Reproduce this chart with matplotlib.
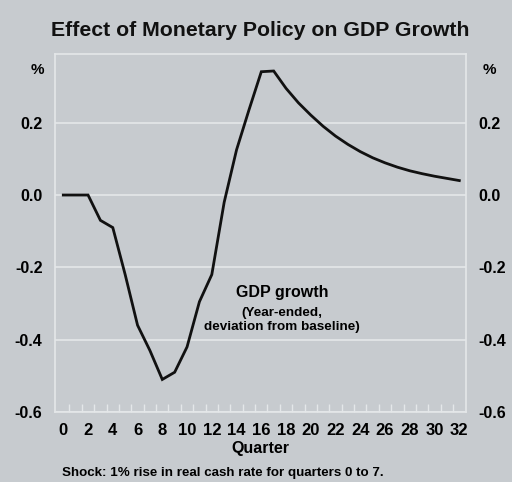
import matplotlib
matplotlib.use("Agg")
import matplotlib.pyplot as plt
import numpy as np

plt.rcParams['font.family'] = ['Liberation Sans', 'DejaVu Sans']
plt.rcParams['font.weight'] = 'bold'

# Data
quarters = list(range(0, 33))
gdp_dev = [0.0, 0.0, 0.0, -0.07, -0.09, -0.22, -0.36, -0.43, -0.51, -0.49,
           -0.42, -0.295, -0.22, -0.02, 0.125, 0.235, 0.341, 0.343, 0.295,
           0.255, 0.221, 0.190, 0.163, 0.140, 0.120, 0.103, 0.089, 0.077,
           0.067, 0.059, 0.052, 0.046, 0.040]
ytick_vals = [-0.6, -0.4, -0.2, 0.0, 0.2]
ytick_labels = ['-0.6', '-0.4', '-0.2', '0.0', '0.2']
xtick_vals = list(range(0, 33, 2))
xtick_labels = [str(v) for v in xtick_vals]

title = "Effect of Monetary Policy on GDP Growth"
xlabel = "Quarter"
footer = "Shock: 1% rise in real cash rate for quarters 0 to 7."

BG = '#c7cbcf'
GRID = '#e4e7e9'
W, H = 512, 482

fig = plt.figure(figsize=(W/100, H/100), dpi=100)
fig.patch.set_facecolor(BG)
ax = fig.add_axes([55/W, 1-412/H, (466-55)/W, (412-54)/H])
ax.set_facecolor(BG)

ax.plot(quarters, gdp_dev, color='#111111', lw=2.0, solid_joinstyle='miter', zorder=3)

ax.set_xlim(-0.67, 32.54)
ax.set_ylim(-0.6, 0.39)

ax.set_yticks(ytick_vals)
ax.set_yticklabels(ytick_labels)
ax.yaxis.grid(True, color=GRID, lw=1.2)
ax.set_axisbelow(True)
ax.tick_params(axis='y', length=0, labelsize=11.5, pad=9, labelright=True, labelleft=True)
for lab in ax.get_yticklabels():
    lab.set_fontweight('bold')

ax.set_xticks(xtick_vals)
ax.set_xticklabels(xtick_labels, fontweight='bold')
ax.tick_params(axis='x', which='major', length=0, labelsize=12, pad=8)
ax.set_xticks(np.arange(0.5, 32, 1.0), minor=True)
ax.tick_params(axis='x', which='minor', direction='in', length=6, width=1, color=GRID)
ax.set_xlabel(xlabel, fontsize=11.5, fontweight='bold', labelpad=2)

for s in ax.spines.values():
    s.set_color(GRID)
    s.set_linewidth(1.2)

fig.text(260/W, 1-31/H, title, ha='center', va='center', fontsize=15.3, fontweight='bold', color='#111111')
fig.text(37/W, 1-70/H, '%', ha='center', va='center', fontsize=11, fontweight='bold')
fig.text(489/W, 1-70/H, '%', ha='center', va='center', fontsize=11, fontweight='bold')
fig.text(62/W, 1-473/H, footer, ha='left', va='center', fontsize=9.6, fontweight='bold')

fig.text(282/W, 1-293/H, 'GDP growth', ha='center', va='center', fontsize=11.5, fontweight='bold')
fig.text(282/W, 1-313/H, '(Year-ended,', ha='center', va='center', fontsize=9.7, fontweight='bold')
fig.text(282/W, 1-327/H, 'deviation from baseline)', ha='center', va='center', fontsize=9.7, fontweight='bold')

fig.savefig('out.png', dpi=100, facecolor=BG)
